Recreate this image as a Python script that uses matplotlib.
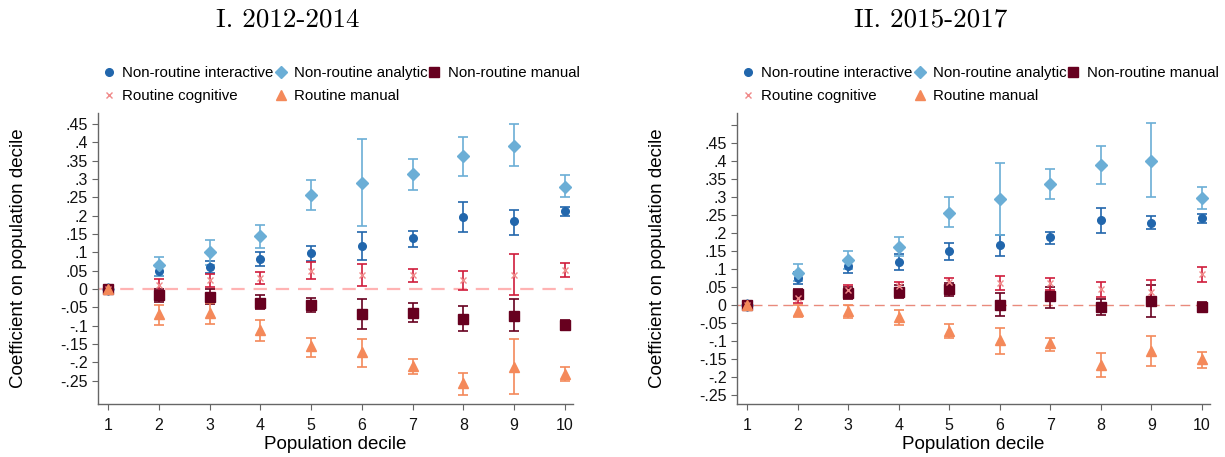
import matplotlib
matplotlib.use("Agg")
import matplotlib.pyplot as plt
import numpy as np

plt.rcParams['font.family'] = ['Liberation Sans', 'DejaVu Sans']

deciles = [1, 2, 3, 4, 5, 6, 7, 8, 9, 10]
series_names = ["Non-routine interactive", "Non-routine analytic", "Non-routine manual",
                "Routine cognitive", "Routine manual"]
panel_titles = ["I. 2012-2014", "II. 2015-2017"]

# Panel I: 2012-2014
p1_nri = [0, .049, .061, .082, .097, .117, .138, .197, .184, .212]
p1_nri_lo = [0, .034, .044, .063, .077, .079, .115, .156, .148, .199]
p1_nri_hi = [0, .065, .077, .100, .117, .154, .159, .238, .215, .224]
p1_nra = [0, .065, .100, .143, .255, .290, .313, .363, .391, .279]
p1_nra_lo = [0, .036, .065, .111, .215, .172, .270, .309, .334, .250]
p1_nra_hi = [0, .088, .133, .175, .297, .408, .354, .414, .450, .311]
p1_nrm = [0, -.018, -.021, -.039, -.044, -.068, -.065, -.083, -.073, -.098]
p1_nrm_lo = [0, -.037, -.041, -.055, -.064, -.109, -.091, -.116, -.115, -.112]
p1_nrm_hi = [0, -.001, -.001, -.017, -.025, -.028, -.039, -.046, -.028, -.085]
p1_rc = [0, .011, .025, .029, .049, .038, .038, .025, .038, .052]
p1_rc_lo = [0, -.005, .006, .014, .026, .009, .020, -.003, -.016, .032]
p1_rc_hi = [0, .028, .041, .045, .072, .068, .054, .050, .095, .070]
p1_rm = [0, -.068, -.066, -.112, -.157, -.171, -.210, -.257, -.212, -.233]
p1_rm_lo = [0, -.098, -.095, -.141, -.185, -.212, -.233, -.289, -.287, -.251]
p1_rm_hi = [0, -.044, -.039, -.085, -.133, -.137, -.191, -.230, -.137, -.214]

# Panel II: 2015-2017
p2_nri = [0, .076, .109, .121, .149, .167, .188, .237, .229, .241]
p2_nri_lo = [0, .058, .088, .097, .125, .136, .169, .201, .212, .228]
p2_nri_hi = [0, .093, .125, .141, .172, .195, .204, .269, .248, .253]
p2_nra = [0, .090, .125, .161, .257, .294, .336, .390, .402, .299]
p2_nra_lo = [0, .068, .099, .135, .216, .195, .294, .337, .300, .267]
p2_nra_hi = [0, .113, .151, .188, .300, .395, .378, .443, .506, .330]
p2_nrm = [0, .031, .034, .037, .044, .000, .025, -.007, .011, -.007]
p2_nrm_lo = [0, .016, .016, .020, .025, -.030, -.009, -.028, -.033, -.021]
p2_nrm_hi = [0, .044, .051, .056, .060, .033, .051, .017, .056, .009]
p2_rc = [0, .020, .042, .053, .065, .062, .060, .045, .037, .086]
p2_rc_lo = [0, .006, .028, .040, .051, .042, .042, .023, .006, .063]
p2_rc_hi = [0, .033, .056, .065, .076, .082, .076, .063, .070, .107]
p2_rm = [0, -.016, -.017, -.034, -.072, -.099, -.107, -.167, -.127, -.151]
p2_rm_lo = [0, -.034, -.036, -.056, -.093, -.137, -.127, -.200, -.170, -.175]
p2_rm_hi = [0, 0, 0, -.014, -.054, -.065, -.091, -.135, -.086, -.132]

panels = [
    [(p1_nri, p1_nri_lo, p1_nri_hi), (p1_nra, p1_nra_lo, p1_nra_hi), (p1_nrm, p1_nrm_lo, p1_nrm_hi),
     (p1_rc, p1_rc_lo, p1_rc_hi), (p1_rm, p1_rm_lo, p1_rm_hi)],
    [(p2_nri, p2_nri_lo, p2_nri_hi), (p2_nra, p2_nra_lo, p2_nra_hi), (p2_nrm, p2_nrm_lo, p2_nrm_hi),
     (p2_rc, p2_rc_lo, p2_rc_hi), (p2_rm, p2_rm_lo, p2_rm_hi)],
]

styles = [
    dict(marker='o', ms=5.5, mfc='#2166ac', mec='#2166ac', ecolor='#2166ac'),
    dict(marker='D', ms=6.5, mfc='#6baed6', mec='#6baed6', ecolor='#6baed6'),
    dict(marker='s', ms=6.5, mfc='#67001f', mec='#67001f', ecolor='#67001f'),
    dict(marker='x', ms=4.5, mfc='#f08a8a', mec='#f08a8a', ecolor='#d01c3c', mew=1.0),
    dict(marker='^', ms=7, mfc='#f4895a', mec='#f4895a', ecolor='#f4895a'),
]

fig = plt.figure(figsize=(12.25, 4.57), dpi=100)
ax_pos = [[0.0800, 0.1160, 0.3878, 0.6361], [0.6016, 0.1160, 0.3861, 0.6361]]
ylims = [(-0.314, 0.479), (-0.276, 0.534)]
yticks_list = [np.round(np.arange(-0.25, 0.451, 0.05), 2), np.round(np.arange(-0.25, 0.501, 0.05), 2)]
zero_styles = [dict(color='#ffb3b3', lw=1.6, dashes=(6, 4)), dict(color='#e98a7c', lw=1.0, dashes=(7, 4))]
title_x = [0.235, 0.760]
legend_x = [0.012, 0.012]


def fmt(v):
    if abs(v) < 1e-9:
        return '0'
    s = f'{v:.2f}'.rstrip('0').rstrip('.')
    return s.replace('0.', '.')


for i, pos in enumerate(ax_pos):
    ax = fig.add_axes(pos)
    ax.axhline(0, zorder=1, **zero_styles[i])
    handles = []
    for (c, lo, hi), st, name in zip(panels[i], styles, series_names):
        c = np.array(c); lo = np.array(lo); hi = np.array(hi)
        yerr = np.vstack([c - lo, hi - c])
        st = dict(st)
        ecol = st.pop('ecolor')
        ax.errorbar(deciles, c, yerr=yerr, fmt='none', ecolor=ecol, elinewidth=1.2,
                    capsize=3.5, capthick=1.2, zorder=2)
        m, = ax.plot(deciles, c, linestyle='none', zorder=3, label=name, **st)
        handles.append(m)
    ax.set_xlim(0.80, 10.16)
    ax.set_ylim(*ylims[i])
    ax.set_xticks(deciles)
    ax.set_xticklabels([str(d) for d in deciles])
    yt = yticks_list[i]
    ax.set_yticks(yt)
    labels = [fmt(v) for v in yt]
    if i == 1:
        labels[-1] = ''
    ax.set_yticklabels(labels)
    for s in ['top', 'right']:
        ax.spines[s].set_visible(False)
    for s in ['left', 'bottom']:
        ax.spines[s].set_color('#666666')
        ax.spines[s].set_linewidth(1.0)
    ax.tick_params(axis='both', direction='out', length=4, width=0.8, color='#666666',
                   labelsize=11.5, labelcolor='#111111')
    ax.tick_params(axis='x', pad=6)
    ax.set_xlabel('Population decile', fontsize=13.5, labelpad=2)
    ax.set_ylabel('Coefficient on population decile', fontsize=13.5, labelpad=24)
    order = [0, 3, 1, 4, 2]
    ax.legend([handles[k] for k in order], [series_names[k] for k in order], ncol=3,
              loc='lower left', bbox_to_anchor=(legend_x[i], 1.035), frameon=False, fontsize=10.8,
              handlelength=0.7, handletextpad=0.55, columnspacing=0.1, labelspacing=0.62,
              borderaxespad=0.0, borderpad=0.0)
    fig.text(title_x[i], 0.958, panel_titles[i], family='cmr10', fontsize=19.5,
             ha='center', va='center')

fig.savefig('out.png', dpi=100)
